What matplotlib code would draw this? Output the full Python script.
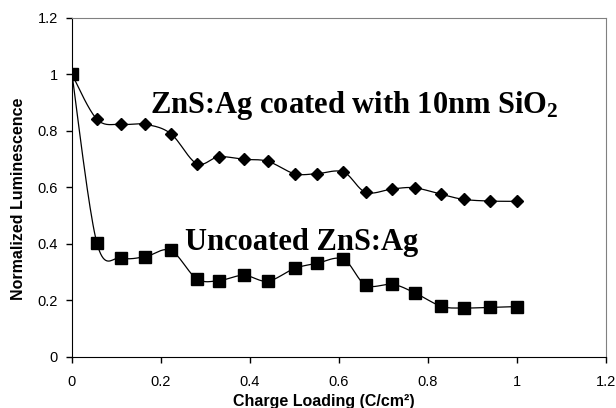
import numpy as np
import matplotlib
matplotlib.use("Agg")
import matplotlib.pyplot as plt

plt.rcParams["mathtext.fontset"] = "custom"
plt.rcParams["mathtext.rm"] = "Liberation Serif:bold"
plt.rcParams["mathtext.bf"] = "Liberation Serif:bold"
plt.rcParams["mathtext.it"] = "Liberation Serif:bold"

charge = [0, 0.056, 0.111, 0.165, 0.222, 0.28, 0.33, 0.386, 0.44, 0.5,
          0.55, 0.61, 0.66, 0.72, 0.77, 0.83, 0.88, 0.94, 1.0]
coated = [1.0, 0.841, 0.823, 0.823, 0.790, 0.684, 0.708, 0.699, 0.692, 0.648,
          0.648, 0.654, 0.582, 0.594, 0.598, 0.575, 0.557, 0.551, 0.550]
uncoated = [1.0, 0.402, 0.350, 0.354, 0.376, 0.276, 0.269, 0.288, 0.267, 0.312,
            0.330, 0.345, 0.253, 0.256, 0.226, 0.178, 0.172, 0.174, 0.177]
xticks = [0, 0.2, 0.4, 0.6, 0.8, 1, 1.2]
yticks = [0, 0.2, 0.4, 0.6, 0.8, 1, 1.2]
xtick_labels = ["0", "0.2", "0.4", "0.6", "0.8", "1", "1.2"]
ytick_labels = ["0", "0.2", "0.4", "0.6", "0.8", "1", "1.2"]


def smooth(x, y, n=20):
    # Bezier smoothing through the points (like Excel's smoothed line)
    x = np.asarray(x, float); y = np.asarray(y, float)
    xs, ys = [], []
    for i in range(len(x) - 1):
        p0 = np.array([x[i - 1], y[i - 1]]) if i > 0 else np.array([x[i], y[i]])
        p1 = np.array([x[i], y[i]])
        p2 = np.array([x[i + 1], y[i + 1]])
        p3 = np.array([x[i + 2], y[i + 2]]) if i + 2 < len(x) else p2
        c1 = p1 + (p2 - p0) / 6.0
        c2 = p2 - (p3 - p1) / 6.0
        t = np.linspace(0, 1, n, endpoint=(i == len(x) - 2))[:, None]
        pts = ((1 - t) ** 3) * p1 + 3 * ((1 - t) ** 2) * t * c1 + 3 * (1 - t) * t ** 2 * c2 + t ** 3 * p2
        xs.append(pts[:, 0]); ys.append(pts[:, 1])
    return np.concatenate(xs), np.concatenate(ys)


fig = plt.figure(figsize=(6.16, 4.08), dpi=100)
ax = fig.add_axes([72 / 616, 1 - 356.5 / 408, 534 / 616, 338.5 / 408])

sx, sy = smooth(charge, coated)
ax.plot(sx, sy, color="black", lw=0.9, zorder=2)
ax.plot(charge, coated, ls="none", marker="D", ms=6, color="black", zorder=3)
sx, sy = smooth(charge, uncoated)
ax.plot(sx, sy, color="black", lw=0.9, zorder=2)
ax.plot(charge, uncoated, ls="none", marker="s", ms=8, color="black", zorder=4)

ax.set_xlim(0, 1.2)
ax.set_ylim(0, 1.2)
ax.set_xticks(xticks)
ax.set_xticklabels(xtick_labels)
ax.set_yticks(yticks)
ax.set_yticklabels(ytick_labels)
ax.tick_params(direction="out", length=4, width=1, labelsize=10.5, colors="black",
               pad=9)
ax.tick_params(axis="y", pad=6)
for lbl in ax.get_xticklabels() + ax.get_yticklabels():
    lbl.set_family("Liberation Sans")
ax.spines["left"].set_color("black")
ax.spines["bottom"].set_color("black")
ax.spines["top"].set_color("#808080")
ax.spines["right"].set_color("#808080")

ax.set_xlabel("Charge Loading (C/cm²)", family="Liberation Sans",
              fontweight="bold", fontsize=11.5)
ax.set_ylabel("Normalized Luminescence", family="Liberation Sans",
              fontweight="bold", fontsize=11.5)
ax.xaxis.set_label_coords(0.471, -0.112)
ax.yaxis.set_label_coords(-0.086, 0.466)

ax.text(0.175, 0.89, "ZnS:Ag coated with 10nm SiO$_{2}$",
        family="Liberation Serif", fontweight="bold", fontsize=22, va="center")
ax.text(0.255, 0.405, "Uncoated ZnS:Ag", family="Liberation Serif",
        fontweight="bold", fontsize=22, va="center")

fig.savefig("out.png", dpi=100)
